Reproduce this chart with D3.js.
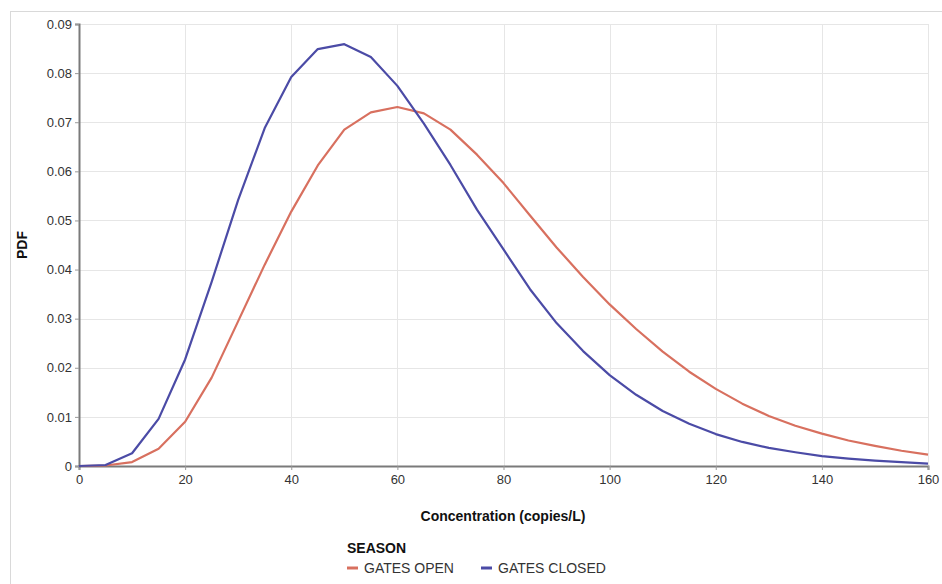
<!DOCTYPE html>
<html>
<head>
<meta charset="utf-8">
<script src="https://cdn.jsdelivr.net/npm/d3@7"></script>
<style>
  html, body { margin: 0; padding: 0; background: #fff; }
  svg { display: block; font-family: "Liberation Sans", Arial, sans-serif; }
</style>
</head>
<body>
<svg id="chart" width="942" height="584"></svg>
<script>
// Concentration grid (copies/L), sampled every 5 units
const concentration = [0, 5, 10, 15, 20, 25, 30, 35, 40, 45, 50, 55, 60, 65, 70, 75, 80,
  85, 90, 95, 100, 105, 110, 115, 120, 125, 130, 135, 140, 145, 150, 155, 160];

// PDF values per season
const gatesOpen = [0, 0.0001, 0.0008, 0.0035, 0.009, 0.018, 0.0295, 0.041, 0.0518, 0.0612,
  0.0685, 0.072, 0.0731, 0.0718, 0.0685, 0.0634, 0.0576, 0.051, 0.0445, 0.0385, 0.0329,
  0.0279, 0.0233, 0.0192, 0.0157, 0.0127, 0.0102, 0.0082, 0.0066, 0.0052, 0.0041, 0.0031, 0.0023];
const gatesClosed = [0, 0.0002, 0.0026, 0.0096, 0.0217, 0.0375, 0.0542, 0.0688, 0.0792, 0.0849,
  0.0859, 0.0833, 0.0774, 0.0697, 0.0613, 0.0522, 0.0441, 0.036, 0.0291, 0.0234, 0.0185,
  0.0145, 0.0112, 0.0086, 0.0065, 0.0049, 0.0037, 0.0028, 0.002, 0.0015, 0.0011, 0.0008, 0.0005];

const seriesNames = ["GATES OPEN", "GATES CLOSED"];
const seriesColors = ["#d8705f", "#4b4ba6"];
const xTicks = [0, 20, 40, 60, 80, 100, 120, 140, 160];
const yTicks = [0, 0.01, 0.02, 0.03, 0.04, 0.05, 0.06, 0.07, 0.08, 0.09];

const svg = d3.select("#chart");
const plotLeft = 79, plotRight = 928, plotTop = 24, plotBottom = 466;

const x = d3.scaleLinear().domain([0, 160]).range([plotLeft, plotRight]);
const y = d3.scaleLinear().domain([0, 0.09]).range([plotBottom, plotTop]);

// outer frame
svg.append("line").attr("x1", 10).attr("x2", 942).attr("y1", 11.5).attr("y2", 11.5)
  .attr("stroke", "#d9d9d9").attr("stroke-width", 1);
svg.append("line").attr("x1", 10.5).attr("x2", 10.5).attr("y1", 11).attr("y2", 584)
  .attr("stroke", "#d9d9d9").attr("stroke-width", 1);

// gridlines
const grid = svg.append("g").attr("stroke", "#e6e6e6").attr("stroke-width", 1);
grid.selectAll(".gx").data(xTicks.filter(d => d > 0)).join("line")
  .attr("x1", d => Math.round(x(d)) + 0.5).attr("x2", d => Math.round(x(d)) + 0.5)
  .attr("y1", plotTop).attr("y2", plotBottom);
grid.selectAll(".gy").data(yTicks.filter(d => d > 0)).join("line")
  .attr("x1", plotLeft).attr("x2", plotRight)
  .attr("y1", d => Math.round(y(d)) + 0.5).attr("y2", d => Math.round(y(d)) + 0.5);

// axes
const xAxis = svg.append("g").attr("transform", `translate(0,${plotBottom})`)
  .call(d3.axisBottom(x).tickValues(xTicks).tickSize(4).tickPadding(5).tickFormat(d3.format("d")));
const yAxis = svg.append("g").attr("transform", `translate(${plotLeft},0)`)
  .call(d3.axisLeft(y).tickValues(yTicks).tickSize(4).tickPadding(3)
    .tickFormat(d => d === 0 ? "0" : d3.format(".2f")(d)));
[xAxis, yAxis].forEach(a => {
  a.select(".domain").attr("stroke", "#7a7a7a").attr("stroke-width", 2);
  a.selectAll(".tick line").attr("stroke", "#999");
  a.selectAll(".tick text").attr("fill", "#333").style("font-size", "13px");
});

// curves
const line = d3.line().x((d, i) => x(concentration[i])).y(d => y(d));
[gatesOpen, gatesClosed].forEach((vals, k) => {
  svg.append("path").datum(vals).attr("d", line)
    .attr("fill", "none").attr("stroke", seriesColors[k]).attr("stroke-width", 2.2)
    .attr("stroke-linejoin", "round");
});

// axis titles
svg.append("text").attr("x", 503).attr("y", 521).attr("text-anchor", "middle")
  .style("font-size", "14px").style("font-weight", "bold").attr("fill", "#111")
  .text("Concentration (copies/L)");
svg.append("text").attr("transform", "translate(27,245) rotate(-90)").attr("text-anchor", "middle")
  .style("font-size", "14px").style("font-weight", "bold").attr("fill", "#111")
  .text("PDF");

// legend
svg.append("text").attr("x", 347).attr("y", 553)
  .style("font-size", "14px").style("font-weight", "bold").attr("fill", "#111")
  .text("SEASON");
const legendX = [347, 481];
const legend = svg.selectAll(".leg").data(seriesNames).join("g")
  .attr("transform", (d, i) => `translate(${legendX[i]},568)`);
legend.append("line").attr("x1", 0).attr("x2", 11).attr("y1", 0).attr("y2", 0)
  .attr("stroke", (d, i) => seriesColors[i]).attr("stroke-width", 3);
legend.append("text").attr("x", 17).attr("y", 5)
  .style("font-size", "14px").attr("fill", "#333").text(d => d);
</script>
</body>
</html>
